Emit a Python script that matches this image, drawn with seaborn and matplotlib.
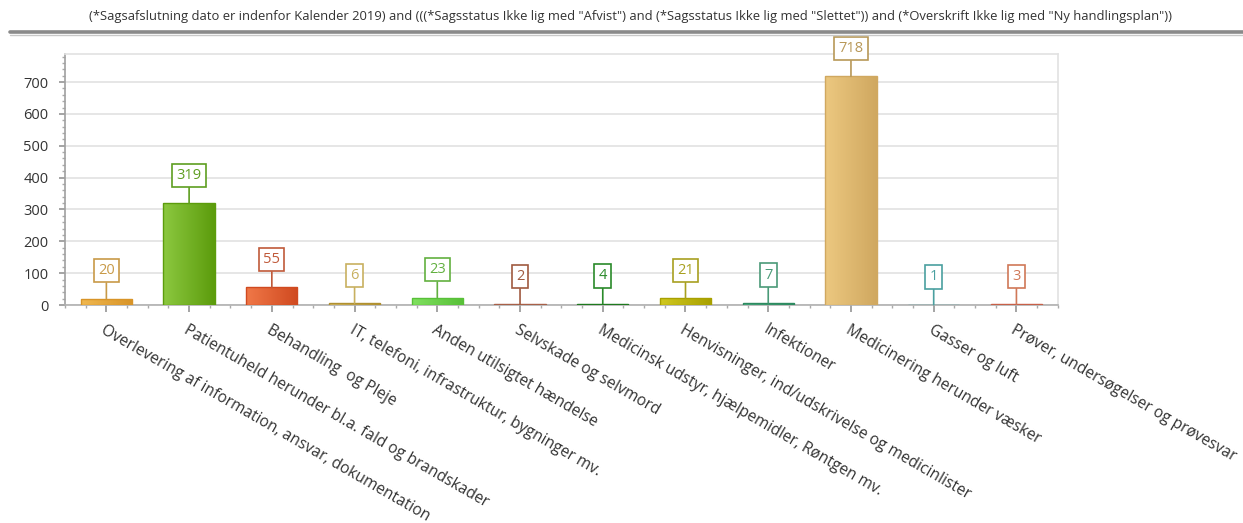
import matplotlib
matplotlib.use("Agg")
import matplotlib.pyplot as plt
import matplotlib.colors as mcolors
from matplotlib.lines import Line2D
from matplotlib.ticker import MultipleLocator, AutoMinorLocator
import numpy as np
import pandas as pd
import seaborn as sns

categories = [
    "Overlevering af information, ansvar, dokumentation",
    "Patientuheld herunder bl.a. fald og brandskader",
    "Behandling  og Pleje",
    "IT, telefoni, infrastruktur, bygninger mv.",
    "Anden utilsigtet hændelse",
    "Selvskade og selvmord",
    "Medicinsk udstyr, hjælpemidler, Røntgen mv.",
    "Henvisninger, ind/udskrivelse og medicinlister",
    "Infektioner",
    "Medicinering herunder væsker",
    "Gasser og luft",
    "Prøver, undersøgelser og prøvesvar",
]
counts = [20, 319, 55, 6, 23, 2, 4, 21, 7, 718, 1, 3]

title_text = ('(*Sagsafslutning dato er indenfor Kalender 2019) and (((*Sagsstatus Ikke lig med "Afvist") '
              'and (*Sagsstatus Ikke lig med "Slettet")) and (*Overskrift Ikke lig med "Ny handlingsplan"))')

# fill colours (light, dark) for the horizontal gradient, and label colours
light_cols = ["#F0B850", "#8CC840", "#F07848", "#D8C070", "#80E060", "#D08868",
              "#3AA040", "#D0C820", "#50B088", "#ECC880", "#80C8C8", "#E89078"]
dark_cols = ["#D89428", "#5C9C0C", "#D04A20", "#B09030", "#58C038", "#A86048",
             "#1E7A1E", "#A8A000", "#2E8A60", "#D0A860", "#50A0A0", "#C86048"]
label_cols = ["#C89A48", "#5E9E20", "#C05A3A", "#C8B060", "#62B040", "#A05A40",
              "#2A8A2A", "#A8A020", "#4A9A78", "#B89858", "#4AA0A0", "#D07858"]

sns.set_theme(style="white")
plt.rcParams["font.family"] = ["Open Sans", "DejaVu Sans"]

df = pd.DataFrame({"category": categories, "count": counts})

fig = plt.figure(figsize=(12.43, 5.23), dpi=100)
ax = fig.add_axes([0.0523, 0.4168, 0.7987, 0.4799])

sns.barplot(data=df, x="category", y="count", hue="category", palette=dark_cols,
            legend=False, width=0.62, ax=ax, saturation=1, zorder=3)

# horizontal gradient inside each bar
grad = np.linspace(0, 1, 64).reshape(1, -1)
for patch, lc, dc in zip(ax.patches, light_cols, dark_cols):
    x0, y0 = patch.get_x(), patch.get_y()
    w, h = patch.get_width(), patch.get_height()
    cmap = mcolors.LinearSegmentedColormap.from_list("g", [lc, dc])
    im = ax.imshow(grad, cmap=cmap, aspect="auto", extent=(x0, x0 + w, y0, y0 + h),
                   zorder=3.5, interpolation="bilinear")
    im.set_clip_path(patch)
    patch.set_edgecolor(dc)
    patch.set_linewidth(1.0)
    patch.set_zorder(4)
    patch.set_facecolor("none")

ax.set_xlim(-0.5, len(categories) - 0.5)
ax.set_ylim(0, 788)

# value labels in boxes on a short stem
for i, (v, col) in enumerate(zip(counts, label_cols)):
    ax.annotate(str(v), xy=(i, v), xytext=(0, 20), textcoords="offset points",
                ha="center", va="center", fontsize=10.5, color=col, zorder=6,
                bbox=dict(boxstyle="square,pad=0.28", fc="white", ec=col, lw=1.2),
                arrowprops=dict(arrowstyle="-", color=col, lw=1.2, shrinkA=0, shrinkB=0),
                annotation_clip=False)

ax.yaxis.set_major_locator(MultipleLocator(100))
ax.yaxis.set_minor_locator(MultipleLocator(20))
ax.xaxis.set_minor_locator(AutoMinorLocator(4))
ax.grid(axis="y", color="#E2E2E2", lw=1.2, zorder=0)
ax.set_axisbelow(True)

ax.tick_params(axis="y", which="major", left=True, length=4, color="#999999",
               labelsize=10.5, labelcolor="#333333", pad=8)
ax.tick_params(axis="y", which="minor", left=True, length=2, color="#AAAAAA")
ax.tick_params(axis="x", which="major", bottom=True, length=5, color="#999999",
               labelsize=11.2, labelcolor="#333333", pad=7)
ax.tick_params(axis="x", which="minor", bottom=True, length=2.5, color="#AAAAAA")

for lbl in ax.get_xticklabels():
    lbl.set_rotation(-30)
    lbl.set_ha("left")
    lbl.set_rotation_mode("anchor")

ax.set_xlabel("")
ax.set_ylabel("")

ax.spines["left"].set_color("#A0A0A0")
ax.spines["bottom"].set_color("#B0B0B0")
ax.spines["top"].set_color("#E2E2E2")
ax.spines["right"].set_color("#E2E2E2")
for s in ax.spines.values():
    s.set_linewidth(1.2)

fig.text(0.5075, 0.968, title_text, ha="center", va="center", fontsize=9.4,
         color="#333333")
fig.add_artist(Line2D([0.008, 1.0], [0.938, 0.938], transform=fig.transFigure,
                      color="#8A8A8A", lw=2.6))
fig.add_artist(Line2D([0.008, 1.0], [0.934, 0.934], transform=fig.transFigure,
                      color="#C8C8C8", lw=1.0))

fig.savefig("out.png", dpi=100)
